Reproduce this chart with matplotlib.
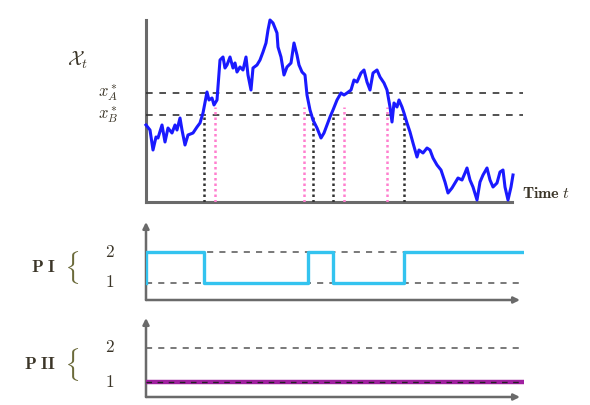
import matplotlib
matplotlib.use("Agg")
import matplotlib.pyplot as plt

plt.rcParams["mathtext.fontset"] = "cm"
plt.rcParams["font.family"] = ["DejaVu Serif"]

# path of X_t (time, level)
path_t = [0, 4, 7, 10, 12, 16, 19, 22, 26, 29, 31, 34, 36, 39, 42, 47, 51, 54, 57,
          61, 63, 66, 68, 71, 74, 77, 79, 81, 84, 87, 89, 91, 94, 97, 100, 102, 105,
          107, 111, 114, 117, 120, 122, 124, 127, 131, 132, 135, 138, 141, 145, 148,
          151, 153, 156, 159, 161, 164, 167, 171, 175, 178, 181, 184, 187, 191, 195,
          198, 201, 205, 208, 211, 215, 218, 221, 224, 227, 231, 234, 238, 241, 244,
          246, 248, 251, 253, 256, 258, 261, 264, 267, 271, 273, 277, 281, 284, 287,
          291, 295, 299, 302, 306, 309, 312, 316, 319, 321, 324, 327, 331, 334, 337,
          341, 344, 347, 351, 354, 357, 359, 362, 365, 367]
path_x = [77, 72, 52, 65, 64, 77, 60, 74, 69, 77, 72, 84, 72, 57, 67, 69, 75, 79, 89,
          110, 102, 104, 97, 102, 142, 145, 134, 137, 145, 134, 139, 130, 135, 132, 145,
          127, 112, 134, 137, 142, 150, 159, 172, 182, 179, 169, 155, 145, 127, 135,
          139, 159, 147, 137, 130, 127, 107, 92, 82, 74, 64, 69, 77, 85, 92, 102, 109,
          107, 109, 112, 122, 120, 129, 132, 120, 112, 129, 132, 125, 119, 112, 95, 80,
          99, 95, 102, 95, 89, 79, 70, 59, 45, 52, 49, 54, 52, 44, 37, 32, 20, 9, 14,
          19, 24, 22, 29, 34, 22, 15, 2, 20, 27, 34, 22, 15, 19, 30, 32, 15, 2, 15, 27]

level_A = 109
level_B = 87
black_marks = [58, 167, 187, 258]
pink_marks = [69, 158, 198, 241]

# policy states
pi_times = [0, 0, 58, 162, 187, 258, 376]
pi_states = [1, 2, 1, 2, 1, 2, 2]
pii_times = [0, 376]
pii_states = [1, 1]

W, H = 590, 405
fig = plt.figure(figsize=(W / 100, H / 100), dpi=100)
fig.patch.set_facecolor("white")


def px_axes(x0, x1, ytop, ybot):
    return fig.add_axes([x0 / W, 1 - ybot / H, (x1 - x0) / W, (ybot - ytop) / H])


text_col = "#3b3528"
axis_col = "#6a6a6a"

# ---- top panel: the process
ax = px_axes(146, 524, 20, 202)
ax.set_xlim(0, 378)
ax.set_ylim(0, 182)
ax.axis("off")
ax.plot([0, 0], [0, 182], color=axis_col, lw=2.2, clip_on=False)
ax.plot([0, 366], [0, 0], color=axis_col, lw=2.2, clip_on=False)
for lv in (level_A, level_B):
    ax.plot([0, 377], [lv, lv], color="#333333", lw=1.2, ls=(0, (4, 4)), clip_on=False)
for tm in black_marks:
    ax.plot([tm, tm], [0, level_B], color="#333333", lw=1.8, ls=(0, (1, 1.2)))
for tm in pink_marks:
    ax.plot([tm, tm], [0, level_A - 14], color="#ff7fcf", lw=1.8, ls=(0, (1, 1.2)))
ax.plot(path_t, path_x, color="#1a1aff", lw=2.2, zorder=5, clip_on=False)
ax.text(-68, 142, r"$\mathcal{X}_t$", fontsize=14, color=text_col, ha="center", va="center")
ax.text(-28, level_A, r"$x_A^*$", fontsize=12, color=text_col, ha="right", va="center")
ax.text(-28, level_B, r"$x_B^*$", fontsize=12, color=text_col, ha="right", va="center")
ax.text(376, 8, r"$\mathbf{Time}\ t$", fontsize=11.5, color=text_col, ha="left", va="center",
        clip_on=False)


def policy_panel(ytop, ybot, lo, hi, name):
    a = px_axes(146, 524, ytop, ybot)
    a.set_xlim(0, 378)
    a.set_ylim(lo, hi)
    a.axis("off")
    a.annotate("", xy=(0, hi), xytext=(0, lo), annotation_clip=False,
               arrowprops=dict(arrowstyle="-|>", color=axis_col, lw=1.8,
                               shrinkA=0, shrinkB=0, mutation_scale=9))
    a.annotate("", xy=(374, lo), xytext=(0, lo), annotation_clip=False,
               arrowprops=dict(arrowstyle="-|>", color=axis_col, lw=1.8,
                               shrinkA=0, shrinkB=0, mutation_scale=9))
    for lv in (1, 2):
        a.plot([0, 376], [lv, lv], color="#555555", lw=1.1, ls=(0, (4, 4)), clip_on=False)
        a.text(-36, lv, r"$\mathbf{%d}$" % lv, fontsize=12.5, color=text_col,
               ha="center", va="center")
    a.text(-90, 1.5, r"$\mathbf{%s}$" % name, fontsize=12.5, color=text_col,
           ha="right", va="center")
    a.text(-74, 1.5, r"$\{$", fontsize=20, color="#6b6a3a", ha="center", va="center")
    return a


ax2 = policy_panel(222, 300, 0.45, 2.97, r"P\ I")
ax2.step(pi_times, pi_states, where="post", color="#33c3ef", lw=2.4, zorder=4)

ax3 = policy_panel(318, 397, 0.56, 2.88, r"P\ II")
ax3.plot(pii_times, pii_states, color="#a020a0", lw=3.2, zorder=4)
ax3.plot(pii_times, pii_states, color="#222222", lw=1.0, ls=(0, (4, 4)), zorder=5)

fig.savefig("out.png", dpi=100)
